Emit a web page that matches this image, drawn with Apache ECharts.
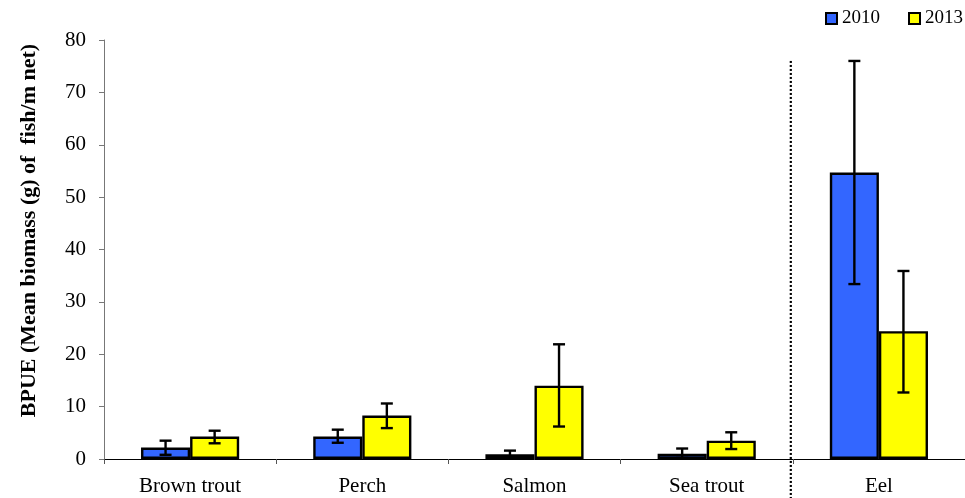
<!DOCTYPE html>
<html>
<head>
<meta charset="utf-8">
<script src="https://cdn.jsdelivr.net/npm/echarts@6/dist/echarts.min.js"></script>
<style>
  html, body { margin: 0; padding: 0; background: #fff; }
  #chart { width: 965px; height: 498px; }
</style>
</head>
<body>
<div id="chart"></div>
<script>
// Species sampled
const species = ['Brown trout', 'Perch', 'Salmon', 'Sea trout', 'Eel'];

// Mean BPUE per year, with lower / upper error limits
const mean2010 = [2.2, 4.3, 0.9, 1.0, 54.7];
const low2010  = [0.8, 3.1, 0.1, 0.2, 33.4];
const high2010 = [3.5, 5.6, 1.6, 2.0, 76.0];

const mean2013 = [4.3, 8.3, 14.0, 3.5, 24.4];
const low2013  = [3.0, 5.9, 6.2, 1.9, 12.7];
const high2013 = [5.4, 10.6, 21.9, 5.1, 35.9];

const yTicks = [0, 10, 20, 30, 40, 50, 60, 70, 80];

const FONT = '"Liberation Serif", "Times New Roman", serif';
const CAT_GAP = 0.43;              // share of each category band left empty
const BAR_SHARE = (1 - CAT_GAP) / 2;

function errorSeries(name, low, high, side) {
  return {
    name: name,
    type: 'custom',
    xAxisIndex: 0,
    yAxisIndex: 0,
    z: 10,
    silent: true,
    data: species.map((s, i) => [i, low[i], high[i]]),
    renderItem: function (params, api) {
      const i = api.value(0);
      const band = api.size([1, 0])[0];
      const cx = api.coord([i, 0])[0] + side * band * BAR_SHARE / 2;
      const yLo = api.coord([i, api.value(1)])[1];
      const yHi = api.coord([i, api.value(2)])[1];
      const cap = 6;
      const style = { stroke: '#000', lineWidth: 2.4, fill: null };
      return {
        type: 'group',
        children: [
          { type: 'line', shape: { x1: cx, y1: yLo, x2: cx, y2: yHi }, style: style },
          { type: 'line', shape: { x1: cx - cap, y1: yHi, x2: cx + cap, y2: yHi }, style: style },
          { type: 'line', shape: { x1: cx - cap, y1: yLo, x2: cx + cap, y2: yLo }, style: style }
        ]
      };
    }
  };
}

const chart = echarts.init(document.getElementById('chart'));

const option = {
  animation: false,
  backgroundColor: '#fff',
  textStyle: { fontFamily: FONT },
  grid: { left: 104, right: 0, top: 40, bottom: 39, containLabel: false, outerBoundsMode: 'none' },
  legend: {
    data: ['2010', '2013'],
    right: 2,
    top: 9,
    padding: 0,
    itemWidth: 11,
    itemHeight: 11,
    itemGap: 28,
    icon: 'rect',
    textStyle: { fontFamily: FONT, fontSize: 19, color: '#000' }
  },
  xAxis: [
    {
      type: 'category',
      data: species,
      axisLine: { lineStyle: { color: '#000', width: 1 } },
      axisTick: { show: true, length: 5, lineStyle: { color: '#555' }, alignWithLabel: false },
      axisLabel: { fontFamily: FONT, fontSize: 21, color: '#000', margin: 17 },
      splitLine: { show: false }
    },
    {
      type: 'value',
      min: 0,
      max: 5,
      show: false
    }
  ],
  yAxis: {
    type: 'value',
    min: yTicks[0],
    max: yTicks[yTicks.length - 1],
    interval: 10,
    name: 'BPUE (Mean biomass (g) of  fish/m net)',
    nameLocation: 'middle',
    nameGap: 64,
    nameTextStyle: { fontFamily: FONT, fontSize: 22, fontWeight: 'bold', color: '#000', padding: [0, 0, 0, 38] },
    axisLine: { show: true, lineStyle: { color: '#777', width: 1 } },
    axisTick: { show: true, length: 5, lineStyle: { color: '#777' } },
    axisLabel: { fontFamily: FONT, fontSize: 21, color: '#000', margin: 18 },
    splitLine: { show: false }
  },
  series: [
    {
      name: '2010',
      type: 'bar',
      data: mean2010,
      barGap: '0%',
      barCategoryGap: (CAT_GAP * 100) + '%',
      itemStyle: { color: '#3366FF', borderColor: '#000', borderWidth: 2.4 }
    },
    {
      name: '2013',
      type: 'bar',
      data: mean2013,
      barGap: '0%',
      barCategoryGap: (CAT_GAP * 100) + '%',
      itemStyle: { color: '#FFFF00', borderColor: '#000', borderWidth: 2.4 }
    },
    errorSeries('err2010', low2010, high2010, -1),
    errorSeries('err2013', low2013, high2013, 1)
  ]
};

chart.setOption(option);

// Dotted divider between the salmonids/perch group and eel,
// placed on the category boundary through the hidden value axis.
const xDiv = chart.convertToPixel({ xAxisIndex: 1 }, 4);
const yTop = chart.convertToPixel({ yAxisIndex: 0 }, 76);
chart.setOption({
  graphic: [{
    type: 'line',
    z: 20,
    shape: { x1: xDiv - 2, y1: yTop, x2: xDiv - 2, y2: 498 },
    style: { stroke: '#000', lineWidth: 2.2, lineDash: [2, 2] }
  }]
});
</script>
</body>
</html>
